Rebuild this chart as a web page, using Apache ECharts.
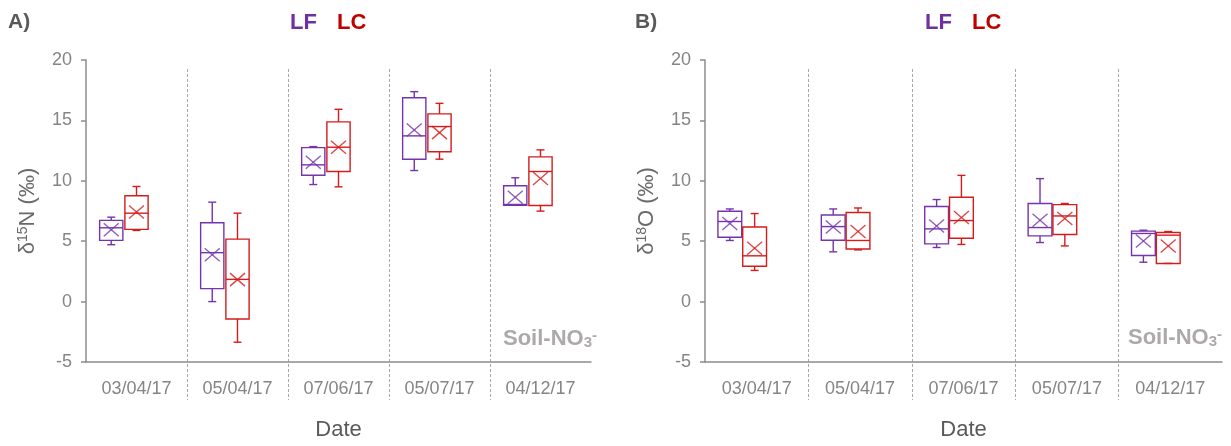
<!DOCTYPE html>
<html><head><meta charset="utf-8">
<script src="https://cdn.jsdelivr.net/npm/echarts@6/dist/echarts.min.js"></script>
<style>html,body{margin:0;padding:0;background:#fff}#c{width:1231px;height:446px}</style>
</head><body><div id="c"></div>
<script>
// ---- data ----
const categories = ['03/04/17', '05/04/17', '07/06/17', '05/07/17', '04/12/17'];
const yTicks = { min: -5, max: 20, interval: 5 };

// Panel A: δ15N
const n15_LF_min    = [4.71, 0.00, 9.69, 10.85, 7.98];
const n15_LF_q1     = [5.07, 1.07, 10.46, 11.79, 7.98];
const n15_LF_median = [6.11, 4.05, 11.32, 13.72, 8.04];
const n15_LF_q3     = [6.72, 6.53, 12.75, 16.88, 9.59];
const n15_LF_max    = [6.99, 8.23, 12.83, 17.38, 10.25];
const n15_LF_mean   = [5.95, 3.88, 11.54, 14.21, 8.64];

const n15_LC_min    = [5.89, -3.36, 9.50, 11.79, 7.49];
const n15_LC_q1     = [5.98, -1.44, 10.77, 12.40, 7.96];
const n15_LC_median = [7.32, 1.84, 12.78, 14.49, 10.77];
const n15_LC_q3     = [8.76, 5.17, 14.88, 15.54, 11.98];
const n15_LC_max    = [9.53, 7.32, 15.92, 16.41, 12.56];
const n15_LC_mean   = [7.41, 1.82, 12.78, 13.99, 10.19];

// Panel B: δ18O
const o18_LF_min    = [5.06, 4.12, 4.48, 4.89, 3.26];
const o18_LF_q1     = [5.33, 5.08, 4.78, 5.44, 3.82];
const o18_LF_median = [6.63, 6.21, 6.02, 6.13, 5.64];
const o18_LF_q3     = [7.48, 7.17, 7.87, 8.12, 5.83];
const o18_LF_max    = [7.67, 7.67, 8.45, 10.18, 5.91];
const o18_LF_mean   = [6.46, 6.18, 6.26, 6.74, 5.02];

const o18_LC_min    = [2.58, 4.28, 4.73, 4.61, 3.16];
const o18_LC_q1     = [2.93, 4.36, 5.25, 5.55, 3.16];
const o18_LC_median = [3.79, 5.06, 6.71, 7.09, 5.50];
const o18_LC_q3     = [6.18, 7.37, 8.64, 8.03, 5.72];
const o18_LC_max    = [7.29, 7.75, 10.45, 8.12, 5.80];
const o18_LC_mean   = [4.42, 5.80, 6.96, 6.88, 4.61];

// ---- styling ----
const FONT = 'Liberation Sans, Arial, sans-serif';
const PURPLE = '#7434AE';
const RED = '#D41C1C';
const AXIS = '#8c8c8c';
const LABEL = '#858585';

function build(mn, q1, md, q3, mx, mean) {
  return categories.map((c, i) => [i, mn[i], q1[i], md[i], q3[i], mx[i], mean[i]]);
}

function makeRender(color, offsetFrac) {
  return function (params, api) {
    const i = api.value(0);
    const band = api.size([1, 0])[0];
    const cx = api.coord([i, 0])[0] + offsetFrac * band;
    const hw = band * 0.115;
    const y = k => api.coord([i, api.value(k)])[1];
    const yMin = y(1), yQ1 = y(2), yMed = y(3), yQ3 = y(4), yMax = y(5), yMean = y(6);
    const cap = 4, xw = 7.5, xh = 6.5;
    const ln = (x1, y1, x2, y2, op) => ({
      type: 'line', shape: { x1, y1, x2, y2 },
      style: { stroke: color, lineWidth: 1.4, opacity: op || 1 }
    });
    return {
      type: 'group',
      children: [
        { type: 'rect', shape: { x: cx - hw, y: yQ3, width: 2 * hw, height: yQ1 - yQ3 },
          style: { stroke: color, fill: 'none', lineWidth: 1.4 } },
        ln(cx - hw, yMed, cx + hw, yMed),
        ln(cx, yQ3, cx, yMax), ln(cx - cap, yMax, cx + cap, yMax),
        ln(cx, yQ1, cx, yMin), ln(cx - cap, yMin, cx + cap, yMin),
        ln(cx - xw, yMean - xh, cx + xw, yMean + xh, 0.8),
        ln(cx - xw, yMean + xh, cx + xw, yMean - xh, 0.8)
      ]
    };
  };
}

function boxSeries(idx, data, color, off) {
  return {
    type: 'custom', xAxisIndex: idx, yAxisIndex: idx,
    renderItem: makeRender(color, off),
    encode: { x: 0, y: [1, 2, 3, 4, 5, 6] },
    data: data, silent: true
  };
}

function mainX(idx) {
  return {
    type: 'category', gridIndex: idx, data: categories, boundaryGap: true,
    axisLine: { show: true, onZero: false, lineStyle: { color: AXIS, width: 1.5 } },
    axisTick: { show: false },
    axisLabel: { color: LABEL, fontSize: 18, fontFamily: FONT, margin: 18, interval: 0 },
    splitLine: { show: false },
    name: 'Date', nameLocation: 'middle', nameGap: 57,
    nameTextStyle: { color: '#595959', fontSize: 22, fontFamily: FONT }
  };
}

function mainY(idx, nameText) {
  return {
    type: 'value', gridIndex: idx, min: yTicks.min, max: yTicks.max, interval: yTicks.interval,
    axisLine: { show: true, onZero: false, lineStyle: { color: AXIS, width: 1.5 } },
    axisTick: { show: true, length: 5, lineStyle: { color: AXIS, width: 1.5 } },
    axisLabel: { color: LABEL, fontSize: 18, fontFamily: FONT, margin: 14 },
    splitLine: { show: false },
    name: nameText, nameLocation: 'middle', nameGap: 46,
    nameTextStyle: {
      color: '#6a6a6a', fontSize: 22, fontFamily: FONT, lineHeight: 24,
      rich: { sup: { fontSize: 14, lineHeight: 14, verticalAlign: 'top', color: '#6a6a6a', fontFamily: FONT } }
    }
  };
}

function sepX(idx) {
  return {
    type: 'category', gridIndex: idx, data: categories, boundaryGap: true,
    axisLine: { show: false }, axisTick: { show: false }, axisLabel: { show: false },
    splitLine: { show: true, showMinLine: false, showMaxLine: false,
      lineStyle: { color: '#a8a8a8', width: 1, type: [3, 2] } }
  };
}
function sepY(idx) {
  return { type: 'value', gridIndex: idx, show: false, min: 0, max: 1, splitLine: { show: false } };
}

function soilText(x, y) {
  return {
    type: 'text', x: x, y: y,
    style: {
      text: 'Soil-NO{sub|3}{sup|-}', fill: '#ADA9A9', font: 'bold 22px ' + FONT,
      textVerticalAlign: 'middle', lineHeight: 22,
      rich: {
        sub: { fontSize: 15, fontWeight: 'bold', lineHeight: 12, padding: [24, 0, 0, 0], verticalAlign: 'bottom', fill: '#ADA9A9', fontFamily: FONT },
        sup: { fontSize: 15, fontWeight: 'bold', lineHeight: 12, verticalAlign: 'top', fill: '#ADA9A9', fontFamily: FONT }
      }
    }
  };
}
function txt(t, x, y, color, size) {
  return { type: 'text', x: x, y: y, style: { text: t, fill: color, font: 'bold ' + size + 'px ' + FONT, textVerticalAlign: 'middle' } };
}

const chart = echarts.init(document.getElementById('c'), null, { renderer: 'canvas' });
chart.setOption({
  animation: false,
  backgroundColor: '#fff',
  grid: [
    { left: 86, right: 640, top: 60, bottom: 84 },
    { left: 705, right: 9, top: 60, bottom: 84 },
    { left: 86, right: 640, top: 69, bottom: 46 },
    { left: 705, right: 9, top: 69, bottom: 46 }
  ],
  xAxis: [mainX(0), mainX(1), sepX(2), sepX(3)],
  yAxis: [mainY(0, 'δ{sup|15}N (‰)'), mainY(1, 'δ{sup|18}O (‰)'), sepY(2), sepY(3)],
  series: [
    boxSeries(0, build(n15_LF_min, n15_LF_q1, n15_LF_median, n15_LF_q3, n15_LF_max, n15_LF_mean), PURPLE, -0.25),
    boxSeries(0, build(n15_LC_min, n15_LC_q1, n15_LC_median, n15_LC_q3, n15_LC_max, n15_LC_mean), RED, 0.0),
    boxSeries(1, build(o18_LF_min, o18_LF_q1, o18_LF_median, o18_LF_q3, o18_LF_max, o18_LF_mean), PURPLE, -0.26),
    boxSeries(1, build(o18_LC_min, o18_LC_q1, o18_LC_median, o18_LC_q3, o18_LC_max, o18_LC_mean), RED, -0.02)
  ],
  graphic: [
    txt('A)', 8, 22, '#595959', 21),
    txt('B)', 635, 22, '#595959', 21),
    txt('LF', 290, 23, '#7030A0', 22),
    txt('LC', 337, 23, '#C00000', 22),
    txt('LF', 925, 23, '#7030A0', 22),
    txt('LC', 972, 23, '#C00000', 22),
    soilText(503, 339),
    soilText(1128, 338)
  ]
});
</script></body></html>
